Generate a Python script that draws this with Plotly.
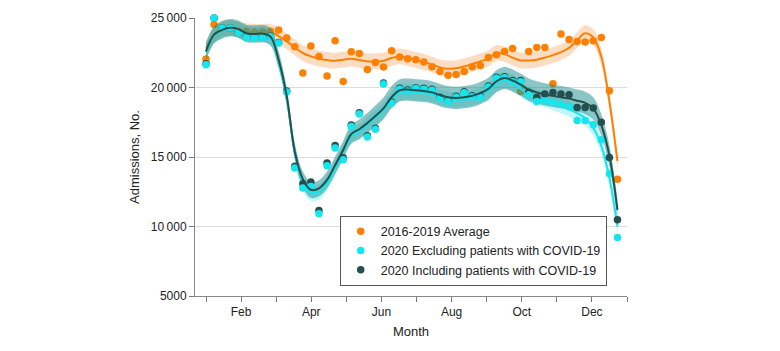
import plotly.graph_objects as go

# ---- data ----
WEEKS = list(range(1, 53))
DAYS_PER_MONTH = 30.44

AVG_2016_2019 = [22050, 24540, 24300, 24250, 24050, 24050, 24000, 24000, 24050, 24140,
                 23560, 22935, 21043, 22985, 22238, 20827, 23367, 20439, 22576, 22453,
                 21302, 21806, 21475, 22647, 22194, 22072, 22000, 21835, 21500, 21150,
                 20880, 20930, 21158, 21500, 21590, 22166, 22360, 22597, 22813, 19720,
                 22597, 22885, 22885, 20274, 23849, 23460, 23317, 23273, 23367, 23604,
                 19770, 13400]
AVG_FIT = [22800, 23800, 24250, 24300, 24150, 24050, 24000, 24000, 23990, 23700,
           23317, 22885, 22482, 22238, 22072, 21978, 21928, 22000, 22072, 21978,
           21878, 21878, 21928, 22122, 22238, 22122, 21978, 21835, 21650, 21450,
           21353, 21380, 21518, 21700, 21878, 22100, 22480, 22400, 22150, 21950,
           21950, 22000, 22150, 22330, 22550, 22850, 23400, 23900, 23600, 22200,
           19000, 14700]
AVG_CI = 570

EXCL_2020 = [21640, 25000, 24280, 24280, 23950, 23600, 23600, 23600, 23650, 23200,
             19676, 14209, 12770, 12885, 10921, 14374, 15648, 14806, 17202, 18093,
             16439, 17000, 20260, 18885, 19870, 19750, 19920, 19870, 19800, 19220,
             19000, 19300, 19615, 19340, 19300, 20040, 20660, 20700, 20420, 20420,
             19482, 19000, 19030, 18920, 18790, 18620, 17620, 17620, 17324, 16250,
             13800, 9200]
EXCL_FIT = [22540, 23740, 24090, 24240, 24140, 23840, 23790, 23810, 23590, 21900,
            19200, 15400, 13100, 12420, 12480, 13130, 14200, 15400, 16500, 16820,
            17320, 17850, 18350, 19150, 19650, 19700, 19650, 19600, 19500, 19300,
            19150, 19100, 19150, 19250, 19450, 19750, 20300, 20520, 20350, 19900,
            19500, 19300, 19150, 18950, 18700, 18450, 18150, 17800, 17100, 15800,
            13500, 10000]
EXCL_CI = 560

INCL_2020 = [21700, 25000, 24300, 24300, 23980, 23630, 23630, 23630, 23680, 23230,
             19750, 14330, 13080, 13200, 11159, 14569, 15830, 14950, 17300, 18180,
             16520, 17070, 20330, 18950, 19940, 19820, 19990, 19940, 19870, 19290,
             19070, 19370, 19690, 19410, 19370, 20110, 20730, 20770, 20500, 20500,
             19650, 19300, 19533, 19648, 19533, 19482, 18568, 18568, 18525, 17500,
             14972, 10490]
INCL_FIT = [22600, 23800, 24150, 24300, 24200, 23900, 23850, 23870, 23650, 22000,
            19400, 15400, 13400, 12640, 12750, 13350, 14400, 15500, 16650, 17000,
            17450, 17950, 18500, 19300, 19800, 19850, 19800, 19750, 19650, 19450,
            19300, 19250, 19300, 19400, 19600, 19900, 20450, 20680, 20500, 20200,
            19850, 19650, 19500, 19400, 19300, 19200, 19050, 18900, 18500, 17300,
            15100, 11200]
INCL_CI = [620, 620, 620, 620, 620, 620, 620, 620, 620, 620,
           600, 580, 580, 580, 580, 600, 620, 650, 680, 700,
           730, 760, 780, 800, 800, 800, 800, 800, 800, 800,
           800, 800, 800, 800, 800, 800, 800, 800, 800, 800,
           800, 800, 800, 800, 800, 800, 800, 800, 800, 780,
           760, 740]

MONTH_TICKS = list(range(1, 14))
MONTH_LABELS = ["", "Feb", "", "Apr", "", "Jun", "", "Aug", "", "Oct", "", "Dec", ""]
Y_TICKS = [5000, 10000, 15000, 20000, 25000]
Y_LABELS = ["5000", "10\u2009000", "15\u2009000", "20\u2009000", "25\u2009000"]

NAMES = ["2016-2019 Average", "2020 Excluding patients with COVID-19",
         "2020 Including patients with COVID-19"]

# ---- styling ----
ORANGE = "#FF8000"
CYAN = "#14E6EE"
DARK = "#23504F"
FONT = "Liberation Sans, Arial, sans-serif"

x = [1 + (w - 1) * 7 / DAYS_PER_MONTH for w in WEEKS]

fig = go.Figure()


def band(fit, ci, color):
    cis = ci if isinstance(ci, list) else [ci] * len(fit)
    lo = [f - c for f, c in zip(fit, cis)]
    hi = [f + c for f, c in zip(fit, cis)]
    fig.add_trace(go.Scatter(x=x, y=lo, mode="lines", line=dict(width=0, shape="spline"),
                             showlegend=False, hoverinfo="skip"))
    fig.add_trace(go.Scatter(x=x, y=hi, mode="lines", line=dict(width=0, shape="spline"),
                             fill="tonexty", fillcolor=color, showlegend=False,
                             hoverinfo="skip"))


# orange layer
band(AVG_FIT, AVG_CI, "rgba(245,150,70,0.32)")
fig.add_trace(go.Scatter(x=x, y=AVG_FIT, mode="lines",
                         line=dict(color=ORANGE, width=2, shape="spline"),
                         showlegend=False))
fig.add_trace(go.Scatter(x=x, y=AVG_2016_2019, mode="markers", name=NAMES[0],
                         marker=dict(color=ORANGE, size=7.5), legendrank=1,
                         cliponaxis=False))

# 2020 layers
band(EXCL_FIT, EXCL_CI, "rgba(0,220,230,0.25)")
band(INCL_FIT, INCL_CI, "rgba(25,140,140,0.5)")
fig.add_trace(go.Scatter(x=x, y=EXCL_FIT, mode="lines",
                         line=dict(color=CYAN, width=2, shape="spline"),
                         showlegend=False))
fig.add_trace(go.Scatter(x=x, y=INCL_2020, mode="markers", name=NAMES[2],
                         marker=dict(color=DARK, size=7.5), legendrank=3,
                         cliponaxis=False))
fig.add_trace(go.Scatter(x=x, y=EXCL_2020, mode="markers", name=NAMES[1],
                         marker=dict(color=CYAN, size=7.5), legendrank=2,
                         cliponaxis=False))
fig.add_trace(go.Scatter(x=x, y=INCL_FIT, mode="lines",
                         line=dict(color=DARK, width=2, shape="spline"),
                         showlegend=False))

fig.update_layout(
    width=780, height=351,
    margin=dict(l=187, r=161, t=10, b=63),
    paper_bgcolor="white", plot_bgcolor="white",
    font=dict(family=FONT, size=12, color="#222"),
    showlegend=True,
    legend=dict(x=0.335, y=0.289, xanchor="left", yanchor="top",
                traceorder="normal",
                bgcolor="white", bordercolor="#555", borderwidth=1,
                font=dict(size=12.5, color="#222"), tracegroupgap=0,
                itemwidth=30),
    xaxis=dict(range=[0.686, 13.0], tickmode="array", tickvals=MONTH_TICKS,
               ticktext=MONTH_LABELS, ticks="outside", ticklen=5,
               tickcolor="#777", showline=True, linecolor="#888", linewidth=1,
               showgrid=False, zeroline=False, automargin=False,
               title=dict(text="Month", font=dict(size=13), standoff=8)),
    yaxis=dict(range=[5000, 25000], tickmode="array", tickvals=Y_TICKS,
               ticktext=Y_LABELS, ticks="outside", ticklen=5, tickcolor="#777",
               showline=True, linecolor="#888", linewidth=1, automargin=False,
               showgrid=True, gridcolor="#dcdcdc", gridwidth=1, zeroline=False,
               title=dict(text="Admissions, No.", font=dict(size=13), standoff=8)),
)

fig.write_html("out.html")
